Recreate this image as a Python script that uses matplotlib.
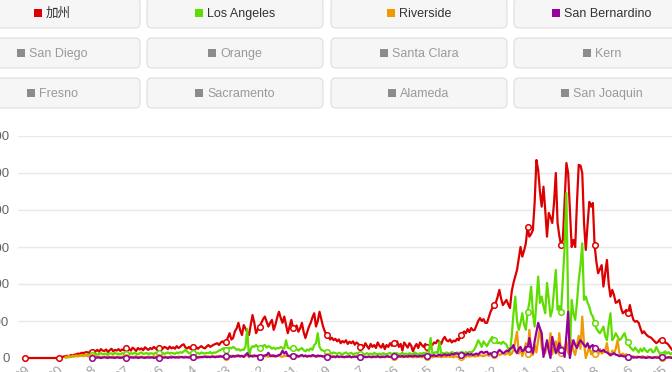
import numpy as np
import pandas as pd
import matplotlib
matplotlib.use('Agg')
import matplotlib.pyplot as plt
from matplotlib.patches import FancyBboxPatch, Rectangle

# daily new deaths, index 0 = 2020-02-29, then 2020-03-02 onward
dates = ['2-29'] + [f'{d.month}-{d.day}' for d in pd.date_range('2020-03-02', periods=369)]

ca = [0, 0, 0, 0, 0, 0, 0, 0, 0, 0, 0, 0, 0, 0, 0, 0, 0, 0, 0,
      1, 2, 3, 4, 5, 6, 5, 8, 7, 9, 10, 12, 11, 14, 13, 15, 16, 14, 18,
      15, 20, 18, 22, 17, 24, 20, 19, 23, 16, 21, 25, 18, 22, 20, 24, 19, 23, 21, 26,
      22, 25, 20, 28, 24, 19, 27, 23, 26, 21, 29, 25, 22, 27, 24, 30, 26, 22, 28,
      27, 25, 30, 28, 24, 31, 26, 29, 25, 32, 27, 30, 35, 37, 28, 26, 30, 24, 29,
      27, 30, 25, 29, 32, 28, 26, 31, 35, 30, 33, 36, 38, 40, 35, 42, 45, 40, 44,
      55, 67, 50, 54, 72, 80, 95, 75, 62, 89, 80, 70, 62, 90, 116, 95, 67, 78, 85,
      95, 105, 112, 98, 85, 95, 103, 76, 90, 110, 125, 108, 95, 112, 90, 67, 85, 103, 81,
      75, 88, 71, 80, 95, 70, 54, 70, 85, 95, 110, 121, 85, 100, 125, 105, 85, 72, 62,
      58, 50, 55, 48, 52, 45, 50, 40, 46, 42, 48, 38, 44, 40, 45, 36, 42, 38, 30,
      35, 28, 40, 32, 25, 38, 30, 35, 27, 42, 33, 28, 38, 24, 35, 30, 40, 33, 40,
      35, 45, 30, 38, 20, 42, 35, 28, 40, 33, 18, 30, 38, 27, 42, 35, 30, 38, 30,
      33, 38, 35, 42, 40, 48, 44, 38, 50, 57, 48, 45, 50, 42, 47, 45, 52, 48, 62,
      65, 72, 67, 78, 70, 81, 75, 76, 88, 100, 108, 100, 105, 95, 95, 110, 125, 135, 143,
      150, 165, 184, 160, 143, 150, 157, 145, 135, 180, 203, 220, 238, 270, 300, 274, 290, 310, 354,
      328, 335, 346, 420, 535, 508, 450, 409, 463, 400, 328, 392, 380, 365, 420, 500, 365, 330, 305,
      319, 420, 527, 500, 400, 300, 319, 300, 420, 522, 520, 500, 365, 292, 360, 422, 409, 419, 305,
      260, 229, 240, 251, 193, 230, 265, 200, 166, 184, 170, 149, 152, 157, 135, 121, 125, 130, 121,
      143, 120, 103, 98, 100, 95, 80, 67, 72, 65, 60, 57, 55, 50, 45, 40, 44, 50, 48, 45,
      42, 40, 35, 28, 22, 20, 18]

la = [None] * 23 + [
      1, 2, 2, 3, 4, 4, 5, 6, 6, 7, 8, 7, 8, 9, 8,
      9, 10, 12, 9, 11, 13, 10, 12, 11, 9, 13, 12, 10, 14, 11, 12, 10, 13, 12, 11,
      12, 10, 13, 11, 14, 12, 10, 13, 15, 11, 12, 14, 10, 13, 12, 11, 14, 12, 13,
      12, 14, 11, 13, 15, 12, 14, 13, 11, 15, 13, 16, 14, 18, 22, 17, 13, 12, 14,
      13, 12, 14, 11, 15, 13, 12, 14, 13, 16, 12, 15, 14, 17, 20, 22, 25, 27, 22,
      25, 28, 26, 30, 27, 22, 24, 20, 23, 22, 30, 78, 2, 25, 32, 30, 35, 30, 27,
      30, 33, 35, 28, 32, 30, 25, 28, 24, 27, 26, 30, 27, 25, 48, 28, 26, 24, 27,
      22, 25, 20, 24, 27, 21, 18, 23, 20, 26, 22, 35, 40, 67, 30, 22, 20, 18, 17,
      15, 14, 12, 15, 13, 11, 14, 12, 10, 13, 15, 11, 12, 14, 10, 12, 13, 11, 10,
      12, 9, 11, 13, 10, 12, 9, 14, 11, 10, 12, 9, 13, 11, 10, 12, 14, 10, 8,
      10, 13, 9, 11, 14, 10, 12, 9, 13, 11, 10, 15, 12, 9, 13, 11, 14, 12, 10,
      15, 54, 12, 14, 16, 13, 44, 12, 14, 11, 15, 13, 12, 16, 14, 11, 15, 13, 12,
      14, 12, 16, 13, 17, 15, 18, 25, 35, 48, 40, 30, 45, 38, 32, 42, 50, 57, 48,
      45, 40, 42, 38, 44, 40, 36, 25, 13, 60, 120, 166, 100, 76, 95, 121, 90, 76, 125,
      150, 193, 121, 85, 150, 220, 149, 166, 140, 121, 203, 160, 112, 130, 184, 238, 130, 140, 125,
      211, 300, 446, 139, 13, 157, 120, 103, 150, 211, 250, 310, 157, 166, 150, 139, 120, 112, 95,
      80, 72, 67, 75, 85, 60, 48, 90, 121, 48, 55, 67, 58, 48, 52, 60, 67, 50, 44,
      30, 25, 20, 28, 22, 15, 25, 18, 27, 20, 16, 22, 24, 15, 18, 30, 20, 12, 8, 14,
      18, 12, 16, 10, 14, 12, 15]

riverside = [None] * 23 + [
      2, 4, 5, 3, 6, 5, 7, 4, 6, 8, 5, 7, 6, 4, 5,
      4, 3, 5, 2, 4, 3, 2, 4, 3, 5, 2, 3, 4, 2, 3, 4, 2, 3, 5, 3,
      2, 4, 3, 2, 3, 5, 2, 3, 4, 2, 3, 2, 4, 3, 2, 5, 3, 2, 4,
      3, 2, 4, 3, 2, 3, 5, 2, 3, 2, 4, 3, 2, 3, 4, 2, 3, 5, 3,
      2, 4, 3, 3, 2, 4, 3, 5, 3, 4, 3, 5, 4, 3, 6, 4, 5, 3, 4,
      5, 4, 6, 3, 5, 7, 4, 6, 5, 3, 6, 8, 4, 5, 7, 4, 6, 5, 3,
      5, 7, 4, 6, 3, 5, 8, 4, 6, 5, 7, 4, 3, 6, 5, 8, 4, 6, 5,
      4, 6, 3, 5, 7, 4, 5, 3, 6, 4, 5, 7, 3, 4, 6, 5, 3, 4, 5,
      3, 4, 2, 5, 3, 4, 2, 3, 5, 3, 2, 4, 3, 2, 4, 3, 5, 2, 3,
      2, 3, 4, 2, 3, 2, 4, 3, 2, 3, 2, 4, 3, 2, 3, 4, 2, 3, 4,
      3, 2, 4, 3, 2, 3, 5, 2, 3, 4, 2, 3, 2, 4, 3, 2, 3, 4, 2,
      3, 4, 2, 3, 5, 3, 4, 2, 3, 4, 3, 5, 3, 4, 2, 5, 3, 4, 3,
      4, 5, 3, 6, 4, 5, 7, 4, 6, 5, 8, 6, 5, 7, 9, 6, 8, 10, 7,
      9, 12, 8, 10, 14, 9, 11, 15, 8, 12, 20, 45, 71, 12, 25, 5, 18, 40, 10,
      76, 20, 8, 35, 15, 50, 81, 30, 13, 13, 40, 25, 67, 10, 30, 45, 15, 67, 13,
      30, 10, 45, 15, 5, 48, 20, 8, 35, 60, 25, 112, 40, 0, 15, 30, 10, 20, 12,
      18, 8, 25, 12, 15, 20, 40, 10, 6, 20, 12, 25, 48, 15, 5, 12, 8, 10, 3,
      4, 3, 5, 2, 4, 3, 2, 5, 3, 2, 4, 3, 2, 1, 3, 2, 4, 2, 1, 3,
      2, 1, 2, 3, 1, 2, 1]

san_bern = [None] * 38 + [
      0, 1, 0, 2, 1, 0, 1, 2, 1, 0, 2, 1, 1, 0, 2, 1, 0, 1, 2, 1,
      1, 0, 2, 1, 1, 2, 0, 1, 2, 1, 0, 2, 1, 1, 2, 0, 1, 2, 1,
      2, 1, 1, 2, 0, 2, 1, 3, 1, 2, 1, 2, 3, 1, 2, 2, 1, 3, 2,
      2, 3, 1, 2, 3, 2, 4, 2, 3, 2, 4, 3, 2, 4, 3, 5, 3, 4, 6,
      4, 5, 3, 6, 4, 5, 7, 4, 6, 3, 8, 13, 5, 6, 4, 7, 5, 6, 4,
      6, 5, 7, 8, 14, 6, 5, 7, 4, 6, 8, 10, 20, 12, 17, 6, 5, 7, 6,
      5, 7, 4, 6, 8, 5, 7, 4, 6, 5, 8, 6, 4, 7, 5, 6, 4, 5, 3,
      4, 5, 3, 4, 2, 5, 3, 4, 3, 2, 4, 3, 5, 2, 3, 4, 3, 2, 3,
      3, 4, 2, 3, 4, 3, 2, 4, 3, 5, 3, 2, 4, 3, 5, 4, 3, 4, 5,
      4, 3, 5, 4, 6, 3, 5, 4, 6, 5, 4, 7, 5, 4, 6, 5, 7, 4, 6,
      5, 7, 6, 8, 5, 7, 9, 6, 8, 10, 7, 9, 8, 11, 9, 13, 12, 10, 9,
      13, 10, 8, 12, 9, 11, 8, 10, 12, 9, 15, 17, 13, 16, 17, 10, 13, 8, 12,
      10, 15, 22, 18, 13, 15, 20, 18, 25, 27, 35, 20, 13, 25, 30, 18, 22, 30, 25,
      54, 30, 13, 45, 70, 95, 80, 67, 3, 25, 48, 20, 0, 57, 35, 13, 25, 40, 22,
      20, 3, 60, 125, 0, 30, 48, 35, 27, 40, 48, 42, 35, 30, 40, 27, 32, 35, 27,
      25, 22, 20, 18, 22, 17, 15, 12, 8, 10, 13, 9, 8, 5, 7, 5, 4, 3, 3,
      2, 3, 1, 2, 1, 3, 2, 1, 2, 0, 1, 2, 1, 0, 2, 1, 1, 0, 2, 1,
      0, 1, 2, 1, 0, 1, 1]

legend_names = ['加州', 'Los Angeles', 'Riverside', 'San Bernardino',
                'San Diego', 'Orange', 'Santa Clara', 'Kern',
                'Fresno', 'Sacramento', 'Alameda', 'San Joaquin']
legend_colors = ['#dd0000', '#5fdd00', '#ee9a00', '#990099'] + ['#8c8c8c'] * 8
y_ticks = [0, 100, 200, 300, 400, 500, 600]

plt.rcParams['font.family'] = ['Liberation Sans', 'Noto Sans CJK SC', 'DejaVu Sans']

W, H = 672, 372
fig = plt.figure(figsize=(W / 100, H / 100), dpi=100)

# button row overlay, in pixel units
ov = fig.add_axes([0, 0, 1, 1])
ov.set_xlim(0, W)
ov.set_ylim(H, 0)
ov.axis('off')

col_left = [-36, 147, 331, 514]
row_top = [-2, 38, 78]
bw, bh = 176, 30
renderer = fig.canvas.get_renderer()
for k, name in enumerate(legend_names):
    r, c = divmod(k, 4)
    x0, y0 = col_left[c], row_top[r]
    ov.add_patch(FancyBboxPatch((x0, y0), bw, bh, boxstyle='round,pad=0,rounding_size=5',
                                fc='#f6f6f6', ec='#dedede', lw=0.8))
    cx, cy = x0 + bw / 2, y0 + bh / 2
    active = k < 4
    t = ov.text(cx, cy + 1, name, ha='left', va='center', fontsize=9,
                color='#333333' if active else '#9a9a9a')
    tw = t.get_window_extent(renderer).width
    start = cx - (tw + 12) / 2
    t.set_x(start + 12)
    ov.add_patch(Rectangle((start, cy - 4), 8, 8, fc=legend_colors[k], ec='none'))

ax = fig.add_axes([18 / W, 14 / H, (681 - 18) / W, 222 / H])
ax.set_xlim(-4, 372)
ax.set_ylim(0, 600)
for s in ax.spines.values():
    s.set_visible(False)
ax.set_yticks(y_ticks)
ax.set_yticklabels([str(v) for v in y_ticks])
ax.yaxis.grid(True, color='#e9e9e9', lw=1)
ax.set_axisbelow(True)
tick_idx = list(range(0, len(dates), 19))
ax.set_xticks(tick_idx)
ax.set_xticklabels([dates[i] for i in tick_idx], rotation=40, ha='right',
                   va='top', rotation_mode='anchor')
ax.tick_params(axis='y', length=0, pad=6, labelsize=9.5, labelcolor='#666666')
ax.tick_params(axis='x', length=0, pad=4, labelsize=9.5, labelcolor='#a0a0a0')

x = np.arange(len(dates))
for vals, col in zip([ca, la, riverside, san_bern], legend_colors[:4]):
    y = np.array(vals, dtype=float)
    marks = [i for i in tick_idx if not np.isnan(y[i])]
    ax.plot(x, y, color=col, lw=1.6, marker='o', markevery=marks, ms=4,
            mfc='white', mec=col, mew=1.1, clip_on=False)

fig.savefig('out.png', dpi=100)
